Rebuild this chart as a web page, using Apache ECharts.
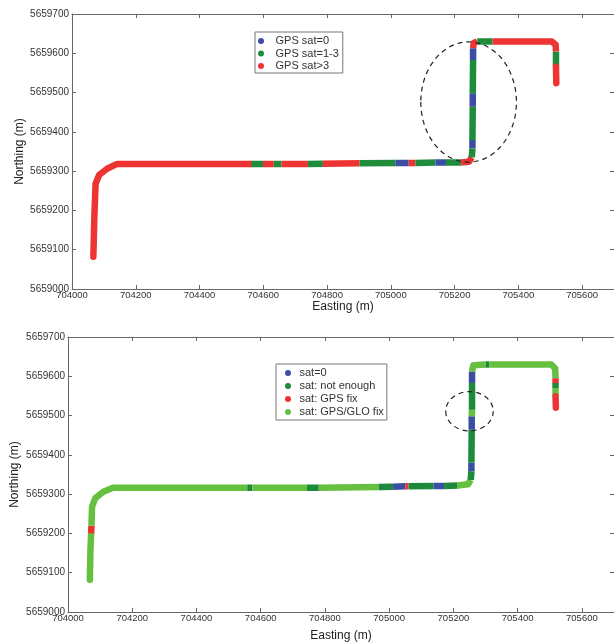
<!DOCTYPE html>
<html>
<head>
<meta charset="utf-8">
<script src="https://cdn.jsdelivr.net/npm/echarts@6/dist/echarts.min.js"></script>
<style>
html, body { margin: 0; padding: 0; background: #fff; }
#main { width: 614px; height: 643px; }
</style>
</head>
<body>
<div id="main"></div>
<script>
// axis ranges (m)
var eastingRange = [704000, 705700];
var northingRange = [5659000, 5659700];
var eastingStep = 200;
var northingStep = 100;

// upper plot: track points [easting, northing, class of the stretch ending here]
var topNames = ['GPS sat=0', 'GPS sat=1-3', 'GPS sat>3'];
var topTrack = [
  [704067, 5659082, 2], [704070, 5659180, 2], [704074, 5659268, 2], [704085, 5659290, 2],
  [704110, 5659306, 2], [704140, 5659318, 2], [704563, 5659318, 2], [704599, 5659318, 1],
  [704633, 5659318, 2], [704657, 5659318, 1], [704740, 5659318, 2], [704787, 5659319, 1],
  [704902, 5659320, 2], [705014, 5659321, 1], [705056, 5659321, 0], [705077, 5659321, 2],
  [705140, 5659322, 1], [705173, 5659322, 0], [705220, 5659322, 1], [705245, 5659324, 2],
  [705254, 5659335, 2], [705256, 5659358, 1], [705256, 5659379, 0], [705257, 5659464, 1],
  [705257, 5659498, 0], [705258, 5659583, 1], [705258, 5659613, 0], [705260, 5659626, 2],
  [705271, 5659630, 2], [705319, 5659630, 1], [705505, 5659630, 2], [705517, 5659622, 2],
  [705518, 5659604, 2], [705518, 5659566, 1], [705519, 5659524, 2]
];
var topCircles = [[705244, 5659476, 150, 153]];

// lower plot
var bottomNames = ['sat=0', 'sat: not enough', 'sat: GPS fix', 'sat: GPS/GLO fix'];
var bottomTrack = [
  [704068, 5659082, 3], [704070, 5659160, 3], [704072, 5659200, 3], [704073, 5659220, 2],
  [704075, 5659268, 3], [704085, 5659290, 3], [704110, 5659306, 3], [704140, 5659316, 3],
  [704558, 5659316, 3], [704574, 5659316, 1], [704744, 5659316, 3], [704781, 5659316, 1],
  [704967, 5659318, 3], [705012, 5659319, 1], [705050, 5659320, 0], [705060, 5659320, 2],
  [705138, 5659321, 1], [705171, 5659321, 0], [705213, 5659322, 1], [705245, 5659325, 3],
  [705254, 5659336, 3], [705256, 5659358, 1], [705256, 5659380, 0], [705257, 5659464, 1],
  [705257, 5659498, 0], [705258, 5659515, 3], [705258, 5659583, 1], [705258, 5659612, 0],
  [705262, 5659628, 3], [705300, 5659630, 3], [705312, 5659630, 1], [705505, 5659630, 3],
  [705517, 5659620, 3], [705518, 5659595, 3], [705518, 5659583, 2], [705518, 5659570, 1],
  [705518, 5659549, 3], [705519, 5659520, 2]
];
var bottomCircles = [[705250, 5659511, 74, 50]];

var topColors = ['#3b4ea6', '#1f8c3c', '#ee3333'];
var bottomColors = ['#3b4ea6', '#1d8a3a', '#ee3333', '#66c040'];

var chart = echarts.init(document.getElementById('main'));

// split a track into same-class stretches
function toRuns(track) {
  var out = [], cur = null;
  for (var i = 1; i < track.length; i++) {
    var c = track[i][2];
    if (!cur || cur.cat !== c) {
      cur = { cat: c, pts: [[track[i - 1][0], track[i - 1][1]]] };
      out.push(cur);
    }
    cur.pts.push([track[i][0], track[i][1]]);
  }
  return out;
}

function trackSeries(track, names, colors, axisIdx) {
  var runs = toRuns(track);
  return runs.map(function (r, i) {
    var ends = i === 0 || i === runs.length - 1;
    return {
      type: 'line',
      name: names[r.cat],
      xAxisIndex: axisIdx,
      yAxisIndex: axisIdx,
      data: r.pts,
      showSymbol: false,
      symbol: 'none',
      silent: true,
      itemStyle: { color: colors[r.cat] },
      lineStyle: { color: colors[r.cat], width: 6.5, cap: ends ? 'round' : 'butt', join: 'round' },
      emphasis: { disabled: true }
    };
  });
}

function ellipseItem(params, api) {
  var c = api.coord([api.value(0), api.value(1)]);
  var e = api.coord([api.value(0) + api.value(2), api.value(1) + api.value(3)]);
  var rx = Math.abs(e[0] - c[0]), ry = Math.abs(c[1] - e[1]);
  var d = 'M' + (c[0] - rx) + ' ' + c[1] +
    ' A' + rx + ' ' + ry + ' 0 1 0 ' + (c[0] + rx) + ' ' + c[1] +
    ' A' + rx + ' ' + ry + ' 0 1 0 ' + (c[0] - rx) + ' ' + c[1] + ' Z';
  return {
    type: 'path',
    shape: { pathData: d },
    style: { fill: 'none', stroke: '#222', lineWidth: 1.2, lineDash: [5, 4] }
  };
}

var lineCol = '#666';
var plain = function (v) { return String(v); };

function xAxes(grid, gap) {
  return [{
    gridIndex: grid, type: 'value', position: 'bottom',
    min: eastingRange[0], max: eastingRange[1], interval: eastingStep,
    axisLine: { show: true, onZero: false, lineStyle: { color: lineCol } },
    axisTick: { inside: true, length: 4, lineStyle: { color: lineCol } },
    splitLine: { show: false },
    axisLabel: { formatter: plain, fontSize: 9.5, color: '#333', margin: 1, showMaxLabel: false },
    name: 'Easting (m)', nameLocation: 'middle', nameGap: gap, nameMoveOverlap: false,
    nameTextStyle: { fontSize: 12, color: '#222' }
  }, {
    gridIndex: grid, type: 'value', position: 'top',
    min: eastingRange[0], max: eastingRange[1], interval: eastingStep,
    axisLine: { show: true, onZero: false, lineStyle: { color: lineCol } },
    axisTick: { inside: true, length: 4, lineStyle: { color: lineCol } },
    splitLine: { show: false },
    axisLabel: { show: false }
  }];
}

function yAxes(grid, gap) {
  return [{
    gridIndex: grid, type: 'value', position: 'left',
    min: northingRange[0], max: northingRange[1], interval: northingStep,
    axisLine: { show: true, onZero: false, lineStyle: { color: lineCol } },
    axisTick: { inside: true, length: 4, lineStyle: { color: lineCol } },
    splitLine: { show: false },
    axisLabel: { formatter: plain, fontSize: 10, color: '#333', margin: 3 },
    name: 'Northing (m)', nameLocation: 'middle', nameGap: gap, nameMoveOverlap: false,
    nameTextStyle: { fontSize: 12, color: '#222' }
  }, {
    gridIndex: grid, type: 'value', position: 'right',
    min: northingRange[0], max: northingRange[1], interval: northingStep,
    axisLine: { show: true, onZero: false, lineStyle: { color: lineCol } },
    axisTick: { inside: true, length: 4, lineStyle: { color: lineCol } },
    splitLine: { show: false },
    axisLabel: { show: false }
  }];
}

var series = []
  .concat(trackSeries(topTrack, topNames, topColors, 0))
  .concat(trackSeries(bottomTrack, bottomNames, bottomColors, 2));

series.push({
  type: 'custom', xAxisIndex: 0, yAxisIndex: 0, silent: true, z: 5,
  data: topCircles, renderItem: ellipseItem
});
series.push({
  type: 'custom', xAxisIndex: 2, yAxisIndex: 2, silent: true, z: 5,
  data: bottomCircles, renderItem: ellipseItem
});

var option = {
  animation: false,
  backgroundColor: '#fff',
  textStyle: { fontFamily: 'Arial, "Liberation Sans", sans-serif' },
  grid: [
    { left: 72, top: 14, width: 543, height: 275 },
    { left: 68, top: 337, width: 548, height: 276 }
  ],
  xAxis: xAxes(0, 12).concat(xAxes(1, 18)),
  yAxis: yAxes(0, 46).concat(yAxes(1, 47)),
  legend: [{
    orient: 'vertical', left: 255, top: 32,
    data: topNames, icon: 'circle', selectedMode: false,
    itemWidth: 19, itemHeight: 6, itemGap: 0.5,
    padding: [3, 4, 1, 3],
    borderColor: '#777', borderWidth: 1, backgroundColor: '#fff',
    textStyle: { fontSize: 11, color: '#333', lineHeight: 12 }
  }, {
    orient: 'vertical', left: 276, top: 364,
    data: bottomNames, icon: 'circle', selectedMode: false,
    itemWidth: 13, itemHeight: 6, itemGap: 1,
    padding: [3, 3, 2, 9],
    borderColor: '#777', borderWidth: 1, backgroundColor: '#fff',
    textStyle: { fontSize: 11, color: '#333', lineHeight: 12 }
  }],
  series: series
};

chart.setOption(option);
</script>
</body>
</html>
